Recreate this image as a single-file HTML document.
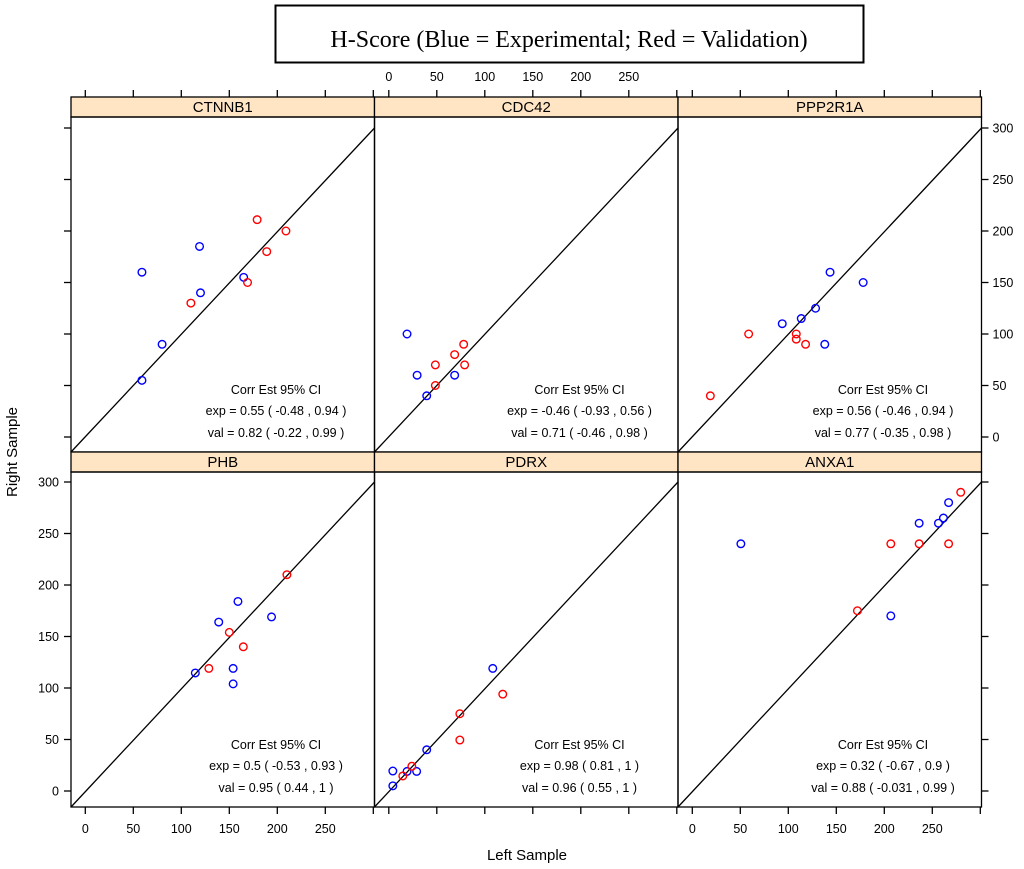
<!DOCTYPE html>
<html><head><meta charset="utf-8"><style>
body{margin:0;background:#fff;width:1024px;height:864px;overflow:hidden}
svg{font-family:"Liberation Sans",sans-serif}
</style></head><body>
<svg id="chart" width="1024" height="864" viewBox="0 0 1024 864" xmlns="http://www.w3.org/2000/svg">
<rect x="275.5" y="5.5" width="588" height="57" fill="#fff" stroke="#000" stroke-width="2"/>
<text x="569" y="47" text-anchor="middle" font-family="Liberation Serif, serif" font-size="24">H-Score (Blue = Experimental; Red = Validation)</text>
<text transform="translate(17,452) rotate(-90)" text-anchor="middle" font-size="15">Right Sample</text>
<text x="527" y="860" text-anchor="middle" font-size="15">Left Sample</text>
<g id="panels"></g>
</svg>
<script>
const panelNames = ["CTNNB1","CDC42","PPP2R1A","PHB","PDRX","ANXA1"];
const expX = [[59,120,119,165,80,59],[19,29.5,39.5,68.6],[143.5,178,128.4,113.5,93.7,138],[159,139,194,154,114.6,154],[108.3,39.5,4.2,4.2,19,29],[50.6,267,261.6,256.4,236.3,206.8]];
const expY = [[160,140,185,155,90,55],[100,60,40,60],[160,150,125,115,110,90],[184,164,169,119,114.6,104],[119,40,19.4,5,19,19],[240,280,265,260,260,170]];
const valX = [[179,209,189,169,110],[78,68.6,48.5,79,48.5],[58.7,108.3,108.3,118,18.8],[210,150,164.6,128.7],[118.7,74,74,24,14.6],[279.6,267,236.3,206.8,172]];
const valY = [[211,200,180,150,130],[90,80,70,70,50],[100,100,95,90,40],[210,154,140,119],[94,75,49.5,24,14.6],[290,240,240,240,175]];
const expText = ["0.55 ( -0.48 , 0.94 )","-0.46 ( -0.93 , 0.56 )","0.56 ( -0.46 , 0.94 )","0.5 ( -0.53 , 0.93 )","0.98 ( 0.81 , 1 )","0.32 ( -0.67 , 0.9 )"];
const valText = ["0.82 ( -0.22 , 0.99 )","0.71 ( -0.46 , 0.98 )","0.77 ( -0.35 , 0.98 )","0.95 ( 0.44 , 1 )","0.96 ( 0.55 , 1 )","0.88 ( -0.031 , 0.99 )"];
const xTicks = [0,50,100,150,200,250,300];
const xLabels = [0,50,100,150,200,250];
const yTicks = [0,50,100,150,200,250,300];

const NS="http://www.w3.org/2000/svg";
const g=document.getElementById("panels");
function mk(t,a,p){const e=document.createElementNS(NS,t);for(const k in a)e.setAttribute(k,a[k]);(p||g).appendChild(e);return e;}
const colL=[71,374.5,678], colW=303.5;
const rowTop=[117,472], rowH=335, stripH=20;
const xs=(c,v)=>colL[c]+14.3+v*0.96;
const ys=(r,v)=>(r==0?437:791)-v*1.03;

for(let i=0;i<6;i++){
  const c=i%3,r=Math.floor(i/3);
  const L=colL[c],T=rowTop[r],R=L+colW,B=T+rowH;
  const pg=mk("g",{});
  
  
  const st=mk("rect",{x:L,y:T-stripH,width:colW,height:stripH,fill:"#ffe5c4",stroke:"#000","stroke-width":1.3},pg);
  
  
  const stt=mk("text",{x:L+colW/2,y:T-5,"text-anchor":"middle","font-size":15},pg);
  stt.textContent=panelNames[i];
  
  
  const fr=mk("rect",{x:L,y:T,width:colW,height:rowH,fill:"none",stroke:"#000","stroke-width":1.3},pg);
  
  
  const ln=mk("line",{x1:L,y1:B,x2:R,y2:ys(r,300),stroke:"#000","stroke-width":1.3},pg);
  
  
  expX[i].forEach((v,j)=>{
    const p=mk("circle",{cx:xs(c,v),cy:ys(r,expY[i][j]),r:3.8,fill:"none",stroke:"#0000ff","stroke-width":1.4},pg);
    
    
  });
  valX[i].forEach((v,j)=>{
    const p=mk("circle",{cx:xs(c,v),cy:ys(r,valY[i][j]),r:3.8,fill:"none",stroke:"#ff0000","stroke-width":1.4},pg);
    
    
  });
  const ax=L+205, base=(r==0?390:745);
  const t1=mk("text",{x:ax,y:base+4,"text-anchor":"middle","font-size":12.5},pg);
  t1.textContent="Corr Est 95% CI";
  
  
  const t2=mk("text",{x:ax,y:base+25,"text-anchor":"middle","font-size":12.5,"xml:space":"preserve"},pg);
  t2.textContent="exp =  "+expText[i];
  
  
  const t3=mk("text",{x:ax,y:base+47,"text-anchor":"middle","font-size":12.5,"xml:space":"preserve"},pg);
  t3.textContent="val =  "+valText[i];
  
  
  if(r==0){
    xTicks.forEach(v=>{
      const x=xs(c,v);
      const tk=mk("line",{x1:x,y1:T-stripH,x2:x,y2:T-stripH-7,stroke:"#000","stroke-width":1.3},pg);
      
      
    });
    if(c==1) xLabels.forEach(v=>{const tl=mk("text",{x:xs(c,v),y:81,"text-anchor":"middle","font-size":12.5},pg);tl.textContent=v;
        
        });
  } else {
    xTicks.forEach(v=>{
      const x=xs(c,v);
      const tk=mk("line",{x1:x,y1:B,x2:x,y2:B+7,stroke:"#000","stroke-width":1.3},pg);
      
      
    });
    if(c!=1) xLabels.forEach(v=>{const tl=mk("text",{x:xs(c,v),y:833,"text-anchor":"middle","font-size":12.5},pg);tl.textContent=v;
        
        });
  }
  if(c==0){
    yTicks.forEach(v=>{
      const y=ys(r,v);
      const tk=mk("line",{x1:L,y1:y,x2:L-7,y2:y,stroke:"#000","stroke-width":1.3},pg);
      
      
      if(r==1){const tl=mk("text",{x:59,y:y+4.5,"text-anchor":"end","font-size":12.5},pg);tl.textContent=v;
        
        }
    });
  }
  if(c==2){
    yTicks.forEach(v=>{
      const y=ys(r,v);
      const tk=mk("line",{x1:R,y1:y,x2:R+7,y2:y,stroke:"#000","stroke-width":1.3},pg);
      
      
      if(r==0){const tl=mk("text",{x:R+11,y:y+4.5,"text-anchor":"start","font-size":12.5},pg);tl.textContent=v;
        
        }
    });
  }
}
</script>
</body></html>
